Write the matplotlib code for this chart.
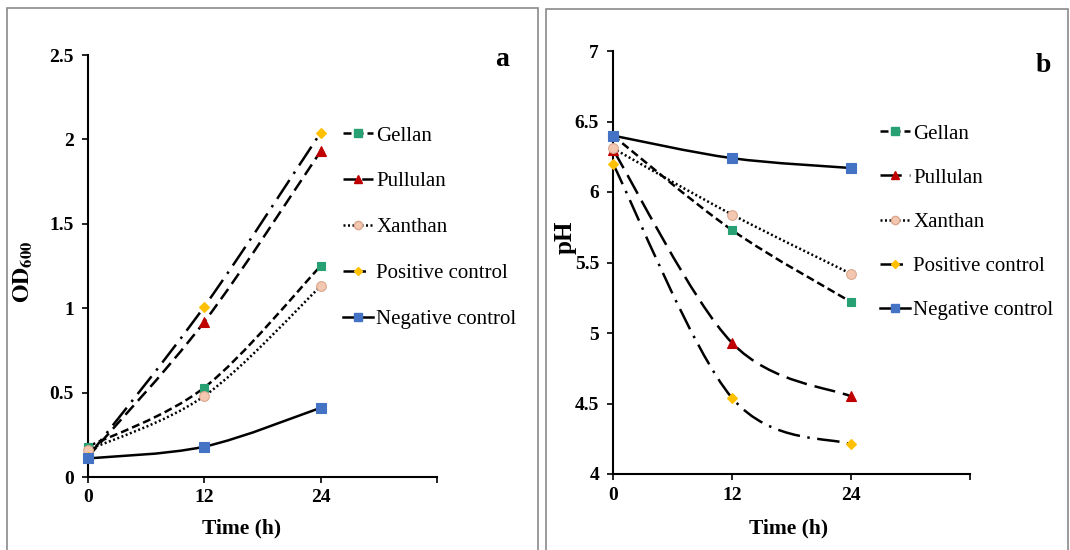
import matplotlib
matplotlib.use("Agg")
import matplotlib.pyplot as plt
from matplotlib.path import Path
from matplotlib.patches import PathPatch, Rectangle
from matplotlib.lines import Line2D

plt.rcParams['font.family'] = ['Liberation Serif', 'DejaVu Serif']
plt.rcParams['mathtext.fontset'] = 'stix'

time_h = [0, 12, 24]
series = ["Gellan", "Pullulan", "Xanthan", "Positive control", "Negative control"]

od_gellan = [0.18, 0.53, 1.25]
od_pullulan = [0.12, 0.92, 1.93]
od_xanthan = [0.16, 0.48, 1.13]
od_positive = [0.12, 1.01, 2.04]
od_negative = [0.11, 0.18, 0.41]

ph_gellan = [6.40, 5.73, 5.22]
ph_pullulan = [6.30, 4.93, 4.55]
ph_xanthan = [6.31, 5.84, 5.42]
ph_positive = [6.20, 4.54, 4.21]
ph_negative = [6.40, 6.24, 6.17]

x_ticks = [0, 12, 24, 36]
x_tick_labels = ["0", "12", "24", ""]

markers = ['s', '^', 'o', 'D', 's']
mcolors = ['#27a073', '#c00000', '#f4c7b0', '#ffc000', '#4472c4']
medges = ['#27a073', '#c00000', '#d9a88e', '#ffc000', '#4472c4']
msizes = [6.0, 6.5, 7.0, 4.8, 6.8]

dash_a = [(0, (3.2, 1.6)), (0, (5, 2.5)), (0, (0.8, 1.0)), (0, (9, 3, 1, 3)), '-']
dash_b = [(0, (3.2, 1.6)), (0, (8.5, 3.2)), (0, (0.8, 1.0)), (0, (9, 3, 1, 3)), '-']

W, H = 1070, 550


def smooth_path(xs, ys):
    pts = list(zip(xs, ys))
    n = len(pts)
    verts = [pts[0]]
    codes = [Path.MOVETO]
    for i in range(n - 1):
        p0 = pts[i - 1] if i > 0 else pts[i]
        p1 = pts[i]
        p2 = pts[i + 1]
        p3 = pts[i + 2] if i + 2 < n else pts[i + 1]
        c1 = (p1[0] + (p2[0] - p0[0]) / 6, p1[1] + (p2[1] - p0[1]) / 6)
        c2 = (p2[0] - (p3[0] - p1[0]) / 6, p2[1] - (p3[1] - p1[1]) / 6)
        verts += [c1, c2, p2]
        codes += [Path.CURVE4] * 3
    return Path(verts, codes)


fig = plt.figure(figsize=(W / 100, H / 100), dpi=100)

# panel borders
fig.add_artist(Rectangle((7 / W, -0.05), 531 / W, 1.05 - 8 / H, transform=fig.transFigure,
                         fill=False, ec='#8a8a8a', lw=1.2))
fig.add_artist(Rectangle((546 / W, -0.05), 522 / W, 1.05 - 9 / H, transform=fig.transFigure,
                         fill=False, ec='#8a8a8a', lw=1.2))

ax1 = fig.add_axes([88 / W, (H - 477) / H, 349 / W, 422 / H])
ax2 = fig.add_axes([613 / W, (H - 474) / H, 357 / W, 423 / H])


def draw_panel(ax, data, styles, ylim, yticks, leg_anchor, leg_spacing):
    handles = []
    for k, ys in enumerate(data):
        ax.add_patch(PathPatch(smooth_path(time_h, ys), fill=False, ec='black', lw=1.8,
                               ls=styles[k], zorder=2, capstyle='butt'))
        ax.plot(time_h, ys, ls='none', marker=markers[k], ms=msizes[k], mfc=mcolors[k],
                mec=medges[k], mew=0.8, zorder=3, clip_on=False)
        handles.append(Line2D([], [], color='black', lw=1.8, ls=styles[k], marker=markers[k],
                              ms=msizes[k] * 0.85, mfc=mcolors[k], mec=medges[k],
                              dash_capstyle='butt'))
    ax.set_xlim(0, 36)
    ax.set_ylim(*ylim)
    ax.set_xticks(x_ticks)
    ax.set_xticklabels(x_tick_labels)
    ax.set_yticks(yticks)
    ax.set_yticklabels([f"{v:g}" for v in yticks])
    for s in ['top', 'right']:
        ax.spines[s].set_visible(False)
    for s in ['left', 'bottom']:
        ax.spines[s].set_linewidth(1.5)
    ax.tick_params(axis='y', direction='out', length=4, width=1.2, labelsize=14, pad=6)
    ax.tick_params(axis='x', direction='out', length=4, width=1.2, labelsize=14, pad=5)
    for lab in ax.get_xticklabels() + ax.get_yticklabels():
        lab.set_fontweight('bold')
    ax.patch.set_visible(False)
    fig.legend(handles, series, loc='upper left', bbox_to_anchor=leg_anchor,
               bbox_transform=fig.transFigure, frameon=False, fontsize=15,
               handlelength=1.45, handletextpad=0.15, labelspacing=leg_spacing, borderpad=0,
               borderaxespad=0)


draw_panel(ax1, [od_gellan, od_pullulan, od_xanthan, od_positive, od_negative], dash_a,
           (0, 2.5), [0, 0.5, 1, 1.5, 2, 2.5], (343 / W, 1 - 126 / H), 1.26)
draw_panel(ax2, [ph_gellan, ph_pullulan, ph_xanthan, ph_positive, ph_negative], dash_b,
           (4, 7), [4, 4.5, 5, 5.5, 6, 6.5, 7], (880 / W, 1 - 124 / H), 1.18)

# axis titles
fig.text(242 / W, 1 - 528 / H, "Time (h)", fontsize=15.5, fontweight='bold', ha='center', va='center')
fig.text(789 / W, 1 - 528 / H, "Time (h)", fontsize=15.5, fontweight='bold', ha='center', va='center')
fig.text(23 / W, 1 - 272 / H, r"$\mathbf{OD_{600}}$", fontsize=17, rotation=90,
         ha='center', va='center')
fig.text(565 / W, 1 - 237 / H, "pH", fontsize=18, fontweight='bold', rotation=90,
         ha='center', va='center')

fig.text(502 / W, 1 - 60 / H, "a", fontsize=20, fontweight='bold', ha='center', va='center')
fig.text(1043 / W, 1 - 65 / H, "b", fontsize=20, fontweight='bold', ha='center', va='center')

fig.savefig("out.png", dpi=100)
